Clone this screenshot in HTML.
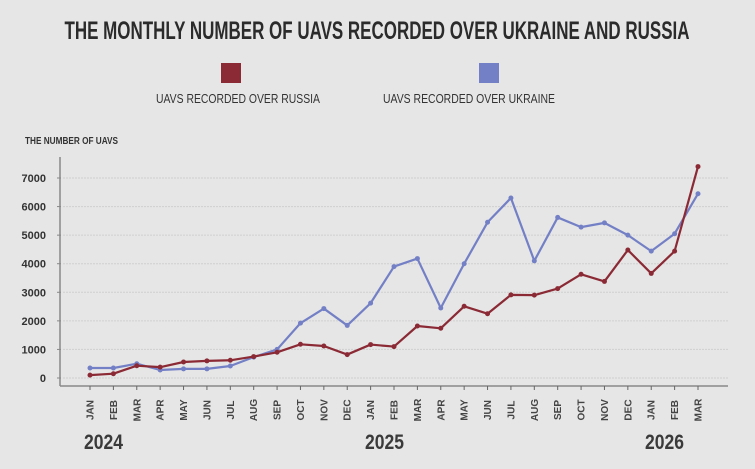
<!DOCTYPE html>
<html><head><meta charset="utf-8"><style>
body{margin:0;background:#e6e6e6;}
svg{display:block;font-family:"Liberation Sans Narrow","Liberation Sans",sans-serif;}
</style></head><body>
<svg width="755" height="469" viewBox="0 0 755 469">
<rect width="755" height="469" fill="#e6e6e6"/>
<text x="377" y="39" text-anchor="middle" font-size="25" font-weight="bold" fill="#2b2b2b" textLength="625" lengthAdjust="spacingAndGlyphs">THE MONTHLY NUMBER OF UAVS RECORDED OVER UKRAINE AND RUSSIA</text>
<rect x="221" y="63" width="20" height="20" fill="#8b2a35"/>
<text x="156" y="103" font-size="13" fill="#333" textLength="164" lengthAdjust="spacingAndGlyphs">UAVS RECORDED OVER RUSSIA</text>
<rect x="479" y="63" width="20" height="20" fill="#7480c6"/>
<text x="383" y="103" font-size="13" fill="#333" textLength="172" lengthAdjust="spacingAndGlyphs">UAVS RECORDED OVER UKRAINE</text>
<text x="25" y="144" font-size="10" font-weight="bold" fill="#333" textLength="93" lengthAdjust="spacingAndGlyphs">THE NUMBER OF UAVS</text>
<g id="grid"></g><g id="axes"></g><g id="series"></g>
<text x="84" y="449" font-size="21" font-weight="bold" fill="#3a3a3a" textLength="39" lengthAdjust="spacingAndGlyphs">2024</text>
<text x="365" y="449" font-size="21" font-weight="bold" fill="#3a3a3a" textLength="39" lengthAdjust="spacingAndGlyphs">2025</text>
<text x="645" y="449" font-size="21" font-weight="bold" fill="#3a3a3a" textLength="39" lengthAdjust="spacingAndGlyphs">2026</text>
</svg>
<script>
const months=["JAN","FEB","MAR","APR","MAY","JUN","JUL","AUG","SEP","OCT","NOV","DEC","JAN","FEB","MAR","APR","MAY","JUN","JUL","AUG","SEP","OCT","NOV","DEC","JAN","FEB","MAR"];
const ukraine=[350,350,500,280,320,320,420,730,1000,1920,2430,1840,2620,3900,4180,2450,4000,5450,6300,4100,5620,5280,5430,5000,4440,5050,6450];
const russia=[100,150,430,380,560,600,620,750,900,1180,1120,820,1170,1100,1820,1740,2510,2250,2910,2900,3130,3630,3380,4480,3660,4440,7400];
const yTicks=[0,1000,2000,3000,4000,5000,6000,7000];
const NS="http://www.w3.org/2000/svg";
const x0=90,x1=698,y0=378,yTop=178,yMaxVal=7000;
const xs=i=>x0+(x1-x0)*i/(months.length-1);
const ys=v=>y0-(y0-yTop)*v/yMaxVal;
function mk(tag,attrs,parent){const e=document.createElementNS(NS,tag);for(const k in attrs)e.setAttribute(k,attrs[k]);parent.appendChild(e);return e;}
const grid=document.getElementById('grid'),axes=document.getElementById('axes'),series=document.getElementById('series');
yTicks.forEach(t=>{
 const l=mk('line',{x1:63,x2:728,y1:ys(t),y2:ys(t),stroke:'#cfcfcf','stroke-width':1,'stroke-dasharray':'2,1'},grid);
 
 
 const tk=mk('line',{x1:57,x2:61,y1:ys(t),y2:ys(t),stroke:'#888'},axes);
 
 
 const tx=mk('text',{x:46,y:ys(t)+4,'text-anchor':'end','font-size':11,'font-weight':'bold',fill:'#333'},axes);
 tx.textContent=t;
 
 
});
const ya=mk('line',{x1:60,x2:60,y1:157,y2:386,stroke:'#888','stroke-width':1.5},axes);


const xa=mk('line',{x1:60,x2:728,y1:386,y2:386,stroke:'#888','stroke-width':1.5},axes);


months.forEach((m,i)=>{
 const tk=mk('line',{x1:xs(i),x2:xs(i),y1:386,y2:390,stroke:'#666'},axes);
 
 
 const tx=mk('text',{x:0,y:0,'text-anchor':'middle','font-size':10,'font-weight':'bold',fill:'#444',transform:`translate(${xs(i)+3.5},${410}) rotate(-90)`},axes);
 tx.textContent=m;
 
 
});
function drawSeries(vals,color,name){
 const p=mk('polyline',{points:vals.map((v,i)=>xs(i)+','+ys(v)).join(' '),fill:'none',stroke:color,'stroke-width':2.2,'stroke-linejoin':'round'},series);
 
 
 vals.forEach((v,i)=>{
  const c=mk('circle',{cx:xs(i),cy:ys(v),r:2.5,fill:color},series);
  
  
 });
}
drawSeries(ukraine,'#7480c6','ukraine');
drawSeries(russia,'#8b2a35','russia');
</script>
</body></html>
